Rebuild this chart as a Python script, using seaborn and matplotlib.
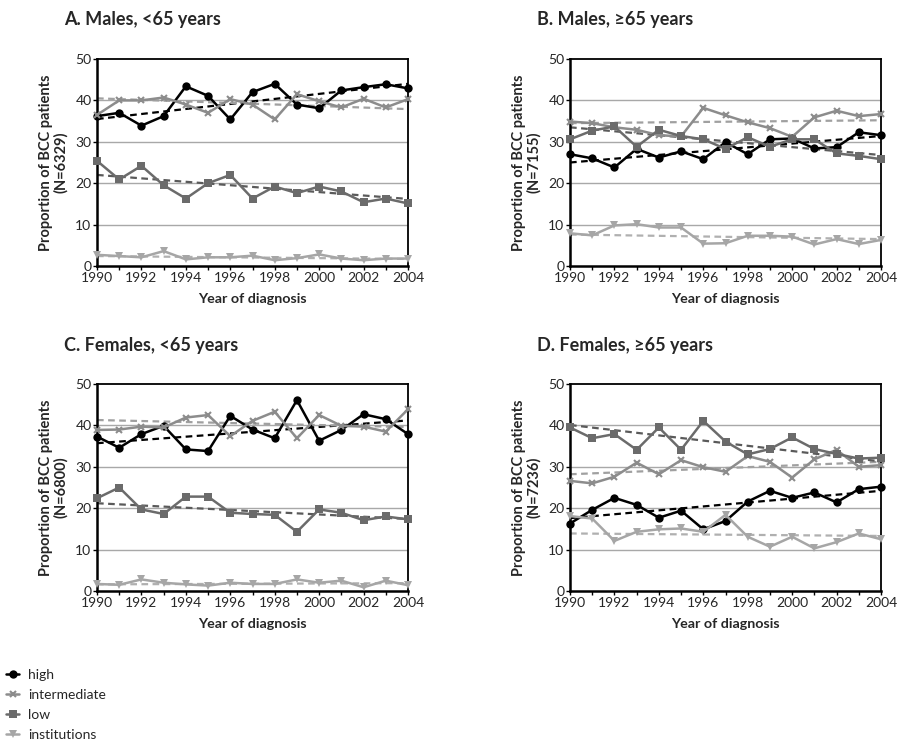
import numpy as np
import pandas as pd
import matplotlib
matplotlib.use('Agg')
import matplotlib.pyplot as plt
import seaborn as sns
from matplotlib.ticker import MultipleLocator

years = list(range(1990, 2005))
groups = ['high', 'intermediate', 'low', 'institutions']

# A. Males, <65
a_high = [36.2, 37.0, 33.9, 36.2, 43.4, 41.1, 35.4, 42.0, 44.0, 39.0, 38.1, 42.4, 43.2, 43.9, 42.9]
a_inter = [36.5, 40.0, 40.0, 40.7, 39.0, 37.0, 40.3, 39.0, 35.4, 41.5, 39.8, 38.3, 40.4, 38.3, 40.3]
a_low = [25.4, 20.9, 24.2, 19.5, 16.3, 20.0, 22.0, 16.3, 19.2, 17.6, 19.2, 18.0, 15.4, 16.3, 15.1]
a_inst = [2.7, 2.4, 2.1, 3.6, 1.6, 2.1, 2.1, 2.5, 1.4, 1.9, 2.8, 1.8, 1.4, 1.8, 1.8]
# trend line values at 1990 and 2004 (high, intermediate, low, institutions)
a_trend = [(35.5, 44.0), (40.5, 37.9), (22.0, 16.2), (2.4, 1.7)]

# B. Males, >=65
b_high = [27.0, 26.0, 23.8, 28.3, 26.2, 27.7, 25.8, 29.9, 27.0, 30.6, 30.8, 28.4, 28.7, 32.3, 31.6]
b_inter = [34.9, 34.5, 33.5, 32.9, 31.6, 31.3, 38.2, 36.4, 34.7, 33.3, 31.2, 35.9, 37.5, 36.2, 36.7]
b_low = [30.6, 32.7, 33.7, 28.8, 32.9, 31.4, 30.6, 28.3, 31.1, 28.8, 30.6, 30.6, 27.2, 26.6, 25.8]
b_inst = [7.9, 7.4, 9.8, 10.1, 9.3, 9.3, 5.4, 5.5, 7.3, 7.3, 7.1, 5.2, 6.5, 5.3, 6.3]
b_trend = [(25.0, 31.4), (34.5, 35.2), (33.5, 26.8), (7.6, 6.5)]

# C. Females, <65
c_high = [37.3, 34.6, 37.9, 39.9, 34.2, 33.8, 42.3, 39.0, 36.9, 46.1, 36.3, 38.9, 42.7, 41.5, 37.9]
c_inter = [38.9, 39.0, 39.7, 39.5, 41.9, 42.5, 37.4, 41.1, 43.3, 36.9, 42.5, 39.9, 39.7, 38.5, 43.9]
c_low = [22.4, 25.0, 19.7, 18.6, 22.8, 22.8, 18.9, 18.6, 18.4, 14.3, 19.7, 18.9, 17.1, 18.0, 17.3]
c_inst = [1.7, 1.5, 2.8, 2.0, 1.6, 1.3, 2.0, 1.7, 1.7, 2.8, 2.0, 2.5, 0.9, 2.5, 1.4]
c_trend = [(35.7, 41.2), (41.3, 39.6), (21.2, 17.4), (1.6, 1.9)]

# D. Females, >=65
d_high = [16.3, 19.6, 22.5, 20.8, 17.7, 19.4, 14.9, 16.9, 21.6, 24.2, 22.5, 23.8, 21.4, 24.6, 25.2]
d_inter = [26.6, 26.0, 27.6, 31.0, 28.2, 31.6, 29.9, 28.8, 32.6, 31.2, 27.4, 31.8, 34.1, 30.0, 30.4]
d_low = [39.5, 36.9, 37.9, 34.1, 39.5, 34.1, 41.1, 36.1, 33.0, 34.3, 37.1, 34.3, 33.1, 32.0, 32.2]
d_inst = [18.1, 17.5, 12.1, 14.3, 14.9, 15.1, 14.3, 18.4, 13.1, 10.7, 13.1, 10.3, 11.8, 13.9, 12.5]
d_trend = [(17.6, 24.2), (28.2, 31.2), (40.1, 31.3), (13.9, 13.3)]

panels = [
    ('A. Males, <65 years', 'N=6329', [a_high, a_inter, a_low, a_inst], a_trend),
    ('B. Males, \u226565 years', 'N=7155', [b_high, b_inter, b_low, b_inst], b_trend),
    ('C. Females, <65 years', 'N=6800', [c_high, c_inter, c_low, c_inst], c_trend),
    ('D. Females, \u226565 years', 'N=7236', [d_high, d_inter, d_low, d_inst], d_trend),
]

palette = {'high': '#000000', 'intermediate': '#8c8c8c', 'low': '#6b6b6b', 'institutions': '#a6a6a6'}
trend_col = {'high': '#000000', 'intermediate': '#a0a0a0', 'low': '#5a5a5a', 'institutions': '#b0b0b0'}
markers = {'high': 'o', 'intermediate': 'x', 'low': 's', 'institutions': 'v'}
msize = {'high': 6, 'intermediate': 5, 'low': 6, 'institutions': 6}

sns.set_style('white')
plt.rcParams['font.family'] = ['Lato', 'DejaVu Sans']

fig = plt.figure(figsize=(8.97, 7.47), dpi=100)
W, H = 897, 747
boxes = [(97, 59), (570, 59), (97, 384), (570, 384)]
aw, ah = 311, 207

for (title, n, series, trend), (lx, ty) in zip(panels, boxes):
    ax = fig.add_axes([lx / W, 1 - (ty + ah) / H, aw / W, ah / H])
    df = pd.DataFrame({'year': years * 4,
                       'value': sum(series, []),
                       'group': np.repeat(groups, len(years))})
    for y in [10, 20, 30, 40]:
        ax.axhline(y, color='#a8a8a8', lw=1, zorder=0)
    for g, (t0, t1) in zip(groups, trend):
        sns.lineplot(x=[years[0], years[-1]], y=[t0, t1], ax=ax, color=trend_col[g],
                     lw=1.6, ls=(0, (3, 2)), zorder=2)
    for g in groups:
        sub = df[df.group == g]
        sns.lineplot(data=sub, x='year', y='value', ax=ax, color=palette[g],
                     marker=markers[g], markersize=msize[g], lw=1.8,
                     markeredgewidth=1.5 if g == 'intermediate' else 0,
                     markeredgecolor=palette[g], clip_on=False, zorder=3)
    ax.set_xlim(1990, 2004)
    ax.set_ylim(0, 50)
    ax.xaxis.set_major_locator(MultipleLocator(2))
    ax.xaxis.set_minor_locator(MultipleLocator(1))
    ax.yaxis.set_major_locator(MultipleLocator(10))
    ax.tick_params(axis='both', which='both', direction='out', length=3, width=1,
                   labelsize=10, pad=1, color='black', bottom=True, left=True)
    for s in ax.spines.values():
        s.set_color('black')
    ax.spines['left'].set_linewidth(1.8)
    ax.spines['bottom'].set_linewidth(1.8)
    ax.spines['top'].set_linewidth(1.3)
    ax.spines['right'].set_linewidth(1.3)
    ax.set_xlabel('Year of diagnosis', fontsize=10.3, fontweight='bold', labelpad=7)
    ax.set_ylabel('Proportion of BCC patients\n(' + n + ')', fontsize=10.5,
                  fontweight='bold', labelpad=5, linespacing=1.1)
    fig.text((lx - 33) / W, 1 - (ty - 39) / H, title, fontsize=13, fontweight='bold',
             va='center', ha='left', family=['Lato', 'DejaVu Sans'])

handles = [plt.Line2D([], [], color=palette[g], marker=markers[g], markersize=msize[g],
                      lw=1.8, markeredgewidth=1.5 if g == 'intermediate' else 0)
           for g in groups]
fig.legend(handles, groups, loc='lower left', bbox_to_anchor=(0.0, 0.0), frameon=False,
           fontsize=10, handlelength=0.9, handletextpad=0.7, labelspacing=0.58,
           borderaxespad=0.15, borderpad=0.3)

fig.savefig('out.png', dpi=100)
